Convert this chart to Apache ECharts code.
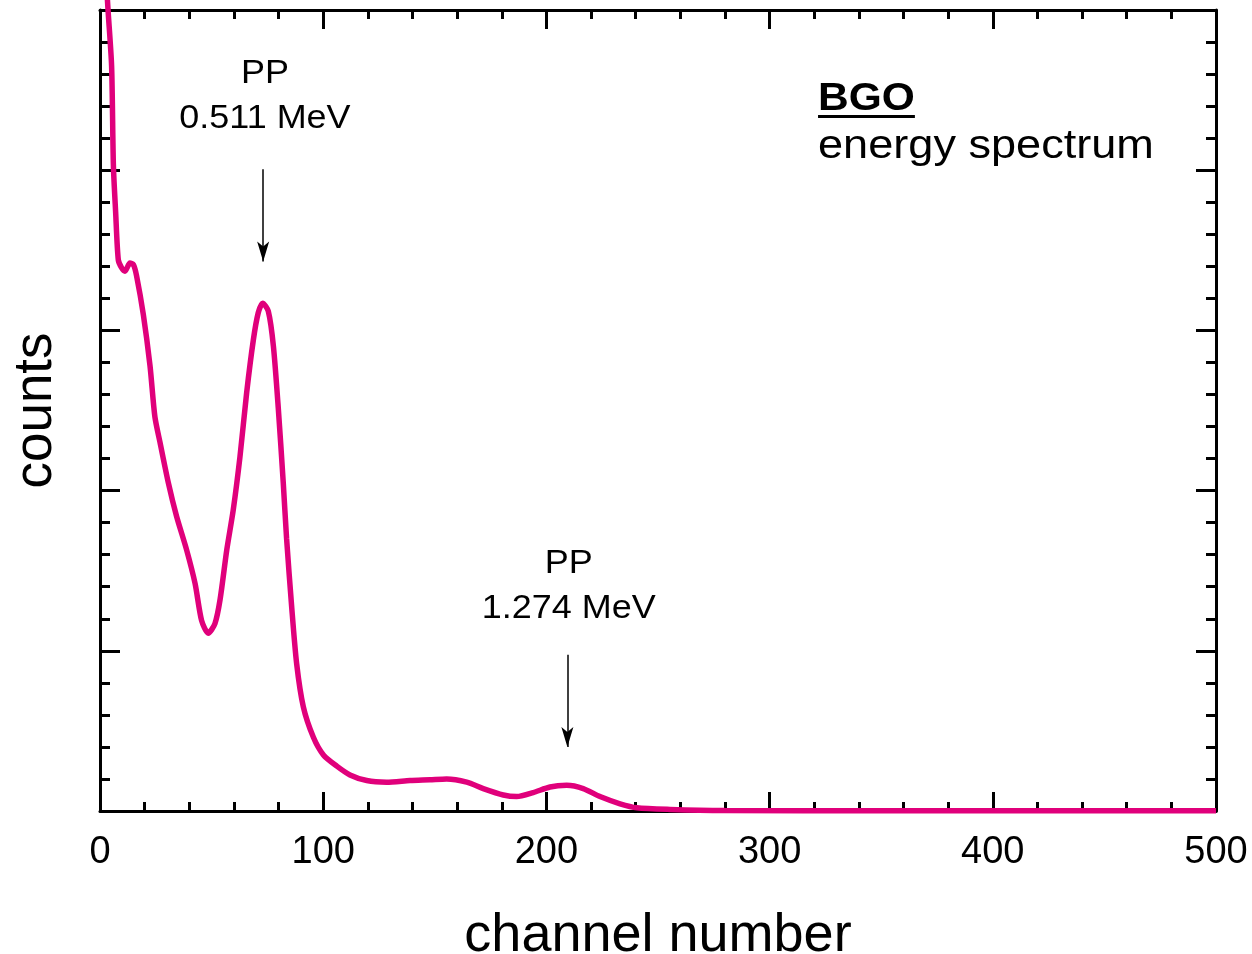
<!DOCTYPE html>
<html>
<head>
<meta charset="utf-8">
<script src="https://cdn.jsdelivr.net/npm/echarts@6/dist/echarts.min.js"></script>
<style>
html,body{margin:0;padding:0;background:#fff;}
#chart{width:1252px;height:954px;}
</style>
</head>
<body>
<div id="chart"></div>
<script>
// channel numbers and counts (arbitrary units, axis 0..5)
var channels = [3.3,3.6,5.2,6.0,7.0,8.2,9.7,11.2,13.4,15.0,16.4,19.4,22.4,24.6,26.9,30.6,34.3,38.8,42.6,45.5,48.5,51.5,53.8,56.8,59.7,62.7,65.7,68.7,70.9,72.9,75.4,77.7,79.9,82.1,83.6,85.9,88.1,91.1,95.6,100.1,106.1,112.0,119.5,128.4,138.9,147.8,155.3,164.3,171.7,180.7,186.7,194.1,201.6,209.1,216.5,224.0,233.0,240.5,255.4,280,350,500];
var counts = [5.07,5.0,4.65,4.03,3.74,3.44,3.39,3.37,3.42,3.41,3.34,3.10,2.78,2.46,2.30,2.05,1.84,1.63,1.42,1.19,1.11,1.17,1.32,1.63,1.88,2.21,2.61,2.94,3.11,3.17,3.12,2.90,2.51,2.05,1.70,1.27,0.92,0.65,0.46,0.35,0.28,0.225,0.19,0.18,0.19,0.195,0.20,0.18,0.14,0.10,0.09,0.115,0.15,0.16,0.14,0.09,0.045,0.02,0.01,0.003,0.001,0.001];
var xTickLabels = ['0','100','200','300','400','500'];

// annotations (data coordinates)
var peakLabels = [
  {x: 73.9, yTop: 4.60, yBottom: 4.32, title: 'PP', energy: '0.511 MeV'},
  {x: 210.0, yTop: 1.54, yBottom: 1.26, title: 'PP', energy: '1.274 MeV'}
];
var arrows = [
  {x: 73.1, from: 4.006, to: 3.43},
  {x: 209.4, from: 0.975, to: 0.40}
];
var titleText = 'BGO';
var subtitleText = 'energy spectrum';
var titlePos = {x: 321.7, yTitle: 4.44, yUnder: 4.335, ySub: 4.145, xEnd: 365.1};

var data = channels.map(function(c, i){ return [c, counts[i]]; });

var chart = echarts.init(document.getElementById('chart'));
var black = '#000';
function xAx(pos, showLabel) {
  return {
    type: 'value', min: 0, max: 500, interval: 100, position: pos,
    name: showLabel ? 'channel number' : '', nameLocation: 'middle', nameGap: 98,
    nameTextStyle: {fontFamily: 'Liberation Sans', fontSize: 54, color: black},
    axisLine: {show: true, onZero: false, lineStyle: {color: black, width: 3}},
    axisTick: {show: true, inside: true, length: 19, lineStyle: {color: black, width: 3}},
    minorTick: {show: true, splitNumber: 5, length: 9, lineStyle: {color: black, width: 3}},
    splitLine: {show: false},
    axisLabel: {show: showLabel, margin: 23, fontFamily: 'Liberation Sans', fontSize: 38, color: black,
      formatter: function(v){ return xTickLabels[Math.round(v/100)]; }}
  };
}
function yAx(pos, showName) {
  return {
    type: 'value', min: 0, max: 5, interval: 1, position: pos,
    name: showName ? 'counts' : '', nameLocation: 'middle', nameGap: 37,
    nameTextStyle: {fontFamily: 'Liberation Sans', fontSize: 53, color: black},
    axisLine: {show: true, onZero: false, lineStyle: {color: black, width: 3}},
    axisTick: {show: true, inside: true, length: 20, lineStyle: {color: black, width: 3}},
    minorTick: {show: true, splitNumber: 5, length: 10, lineStyle: {color: black, width: 3}},
    splitLine: {show: false},
    axisLabel: {show: false}
  };
}

chart.setOption({
  animation: false,
  backgroundColor: '#fff',
  grid: {left: 100, right: 36, top: 10, bottom: 143, containLabel: false, outerBoundsMode: 'none'},
  xAxis: [xAx('bottom', true), xAx('top', false)],
  yAxis: [yAx('left', true), yAx('right', false)],
  series: [{
    type: 'line',
    data: data,
    xAxisIndex: 0, yAxisIndex: 0,
    showSymbol: false,
    smooth: 0.25,
    clip: false,
    lineStyle: {color: '#e0007b', width: 5.5},
    z: 3,
    markLine: {
      silent: true,
      symbol: ['none', 'arrow'],
      symbolSize: [9, 20],
      label: {show: false},
      lineStyle: {color: black, width: 1.5, type: 'solid'},
      data: arrows.map(function(a){ return [{coord: [a.x, a.from]}, {coord: [a.x, a.to]}]; })
    }
  }]
});

function px(x, y) { return chart.convertToPixel({xAxisIndex: 0, yAxisIndex: 0}, [x, y]); }
var sx = 1.09;
var elems = [];
peakLabels.forEach(function(p){
  var a = px(p.x, p.yTop), b = px(p.x, p.yBottom);
  elems.push({type: 'text', x: a[0], y: a[1], scaleX: sx, style: {text: p.title, fontFamily: 'Liberation Sans', fontSize: 33, fill: black, textAlign: 'center', textVerticalAlign: 'middle'}});
  elems.push({type: 'text', x: b[0], y: b[1], scaleX: sx, style: {text: p.energy, fontFamily: 'Liberation Sans', fontSize: 33, fill: black, textAlign: 'center', textVerticalAlign: 'middle'}});
});
var t1 = px(titlePos.x, titlePos.yTitle), t2 = px(titlePos.x, titlePos.ySub), u1 = px(titlePos.x, titlePos.yUnder), u2 = px(titlePos.xEnd, titlePos.yUnder);
elems.push({type: 'text', x: t1[0], y: t1[1], scaleX: sx, style: {text: titleText, fontFamily: 'Liberation Sans', fontWeight: 'bold', fontSize: 39, fill: black, textAlign: 'left', textVerticalAlign: 'middle'}});
elems.push({type: 'line', shape: {x1: u1[0], y1: u1[1], x2: u2[0], y2: u2[1]}, style: {stroke: black, lineWidth: 3}});
elems.push({type: 'text', x: t2[0], y: t2[1], scaleX: 1.1, style: {text: subtitleText, fontFamily: 'Liberation Sans', fontSize: 41, fill: black, textAlign: 'left', textVerticalAlign: 'middle'}});
chart.setOption({graphic: {elements: elems}});
</script>
</body>
</html>
